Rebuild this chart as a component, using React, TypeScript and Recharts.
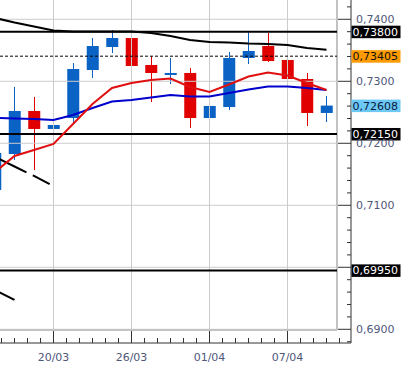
import React from "react";
import {
  ComposedChart,
  Bar,
  Line,
  XAxis,
  YAxis,
  ReferenceLine,
  ReferenceDot,
} from "recharts";

// candle index (one per session)
const candleIndex = [0, 1, 2, 3, 4, 5, 6, 7, 8, 9, 10, 11, 12, 13, 14, 15, 16, 17];
const opens = [0.71247, 0.71827, 0.72521, 0.72231, 0.72408, 0.73182, 0.73553, 0.73698, 0.73263, 0.73118, 0.73134, 0.72408, 0.72585, 0.73376, 0.73569, 0.73344, 0.73037, 0.72489];
const highs = [0.719, 0.72908, 0.72747, 0.7265, 0.73295, 0.73698, 0.73827, 0.73795, 0.73408, 0.73376, 0.73215, 0.72973, 0.73473, 0.73795, 0.73779, 0.73505, 0.73134, 0.72763];
const lows = [0.7118, 0.71731, 0.71569, 0.72182, 0.72327, 0.73053, 0.73456, 0.73215, 0.72666, 0.72956, 0.72247, 0.72327, 0.72537, 0.73279, 0.73311, 0.7286, 0.72279, 0.72344];
const closes = [0.71844, 0.72521, 0.72231, 0.72295, 0.73198, 0.73569, 0.73698, 0.73247, 0.73134, 0.73134, 0.72408, 0.72602, 0.73376, 0.73489, 0.73327, 0.73037, 0.72489, 0.72608];

const maFast = [0.71537, 0.71795, 0.71892, 0.71989, 0.72311, 0.72634, 0.72892, 0.72973, 0.73021, 0.73045, 0.72908, 0.72827, 0.72948, 0.73077, 0.73142, 0.73094, 0.72973, 0.7286];
const maSlow = [0.72408, 0.724, 0.72392, 0.72376, 0.72456, 0.72569, 0.72674, 0.72698, 0.72739, 0.72779, 0.72755, 0.72755, 0.72811, 0.72868, 0.72916, 0.72916, 0.72892, 0.7286];
const upperBand = [0.74021, 0.73948, 0.73884, 0.73819, 0.73803, 0.73803, 0.73803, 0.73803, 0.73779, 0.73731, 0.73666, 0.73634, 0.73626, 0.7361, 0.73602, 0.73585, 0.73537, 0.7351];
const lowerA = [0.71779, 0.71626, 0.71473, 0.71311];
const lowerB = [0.69634, 0.69473];

const dateTicks = [3, 7, 11, 15];
const dateLabels = ["20/03", "26/03", "01/04", "07/04"];

const solidLevels = [0.738, 0.7215, 0.6995];
const dashedLevel = 0.73405;
const lastPrice = 0.72608;
const yMajor = [0.69, 0.7, 0.71, 0.72, 0.73, 0.74];
// 0,7000 sits under the 0,69950 tag, so it is not printed
const yLabelled = [0.69, 0.71, 0.72, 0.73, 0.74];

// axis window (data units)
const X_MIN = 0.2564;
const X_MAX = 18.2564;
const X_FRAME = 17.538;
const Y_MIN = 0.68779;
const Y_MAX = 0.74311;
const Y_FRAME = 0.68989;

const BLUE = "#0a62c4";
const RED = "#e00000";
const TEXT = "#50577a";
const FONT = "DejaVu Sans, Verdana, sans-serif";

const data = candleIndex.map((i) => ({
  i,
  open: opens[i],
  close: closes[i],
  high: highs[i],
  low: lows[i],
  range: [lows[i], highs[i]],
  fast: maFast[i],
  slow: maSlow[i],
  upper: upperBand[i],
  lowA: lowerA[i],
  lowB: lowerB[i],
}));

const xTicks = Array.from({ length: 27 }, (_, k) => 3 + ((k - 4) * 2) / 3);
const yTicks = Array.from({ length: 28 }, (_, k) => +(0.688 + k * 0.002).toFixed(3));

const tags = [
  { v: solidLevels[0], bg: "#000", fg: "#fff" },
  { v: dashedLevel, bg: "#ff9a00", fg: "#111" },
  { v: lastPrice, bg: "#6cc8f4", fg: "#0a1a40" },
  { v: solidLevels[1], bg: "#000", fg: "#fff" },
  { v: solidLevels[2], bg: "#000", fg: "#fff" },
];

const fmt = (v: number, d: number) => v.toFixed(d).replace(".", ",");
const near = (list: number[], v: number) => list.some((m) => Math.abs(m - v) < 1e-6);

const Candle = (props: any) => {
  const { x, y, width, height, payload } = props;
  if (!payload) return null;
  const { open, close, high, low } = payload;
  const k = height / (high - low);
  const py = (v: number) => y + (high - v) * k;
  const color = close >= open ? BLUE : RED;
  const cx = Math.floor(x + width / 2) + 0.5;
  const top = py(Math.max(open, close));
  const bot = py(Math.min(open, close));
  return (
    <g>
      <line x1={cx} x2={cx} y1={y} y2={y + height} stroke={color} strokeWidth={1} />
      <rect x={x} y={top} width={width} height={Math.max(bot - top, 2)} fill={color} />
    </g>
  );
};

const XTick = (p: any) => {
  const { x, y, payload } = p;
  const idx = dateTicks.findIndex((t) => Math.abs(t - payload.value) < 1e-6);
  const major = idx >= 0;
  return (
    <g>
      <line x1={x} x2={x} y1={y} y2={y - (major ? 12 : 5)} stroke="#333" />
      {major && (
        <text x={x} y={y + 18} textAnchor="middle" fontSize={11} fontFamily={FONT} fill={TEXT}>
          {dateLabels[idx]}
        </text>
      )}
    </g>
  );
};

const YTick = (p: any) => {
  const { x, y, payload } = p;
  const major = near(yMajor, payload.value);
  return (
    <g>
      <line x1={x - (major ? 13 : 4)} x2={x} y1={y} y2={y} stroke="#333" />
      {near(yLabelled, payload.value) && (
        <text x={x + 5} y={y + 4} fontSize={11} fontFamily={FONT} fill={TEXT}>
          {fmt(payload.value, 4)}
        </text>
      )}
    </g>
  );
};

const PriceTag = ({ cx, cy, bg, fg, v }: any) => (
  <g>
    <rect x={cx + 0.5} y={cy - 6} width={49} height={12.5} fill={bg} />
    <text x={cx + 1.5} y={cy + 4} fontSize={11} fontFamily={FONT} fill={fg}>
      {fmt(v, 5)}
    </text>
  </g>
);

export default function App() {
  return (
    <div style={{ position: "absolute", left: 0, top: 0, width: 409, height: 369, background: "#fff" }}>
      <ComposedChart width={409} height={369} data={data} margin={{ top: 0, right: 0, bottom: 0, left: 0 }}>
        {yMajor.map((v) => (
          <ReferenceLine key={"h" + v} segment={[{ x: X_MIN, y: v }, { x: X_FRAME, y: v }]} stroke="#cccccc" />
        ))}
        {dateTicks.map((t) => (
          <ReferenceLine key={"v" + t} segment={[{ x: t, y: Y_FRAME }, { x: t, y: Y_MAX }]} stroke="#cccccc" />
        ))}
        <ReferenceLine segment={[{ x: X_FRAME, y: Y_FRAME }, { x: X_FRAME, y: Y_MAX }]} stroke="#c2c2c2" strokeWidth={2} />
        <ReferenceLine segment={[{ x: X_MIN, y: Y_FRAME }, { x: X_FRAME, y: Y_FRAME }]} stroke="#c2c2c2" strokeWidth={2} />

        <XAxis
          type="number"
          dataKey="i"
          domain={[X_MIN, X_MAX]}
          allowDataOverflow
          ticks={xTicks}
          interval={0}
          height={26}
          tickSize={0}
          tickMargin={0}
          tickLine={false}
          axisLine={{ stroke: "#333" }}
          tick={<XTick />}
        />
        <YAxis
          orientation="right"
          type="number"
          domain={[Y_MIN, Y_MAX]}
          allowDataOverflow
          ticks={yTicks}
          interval={0}
          width={58}
          tickSize={0}
          tickMargin={0}
          tickLine={false}
          axisLine={{ stroke: "#333" }}
          tick={<YTick />}
        />

        {solidLevels.map((v) => (
          <ReferenceLine key={"s" + v} segment={[{ x: X_MIN, y: v }, { x: X_FRAME, y: v }]} stroke="#000" strokeWidth={2} />
        ))}
        <ReferenceLine
          segment={[{ x: X_MIN, y: dashedLevel }, { x: X_FRAME, y: dashedLevel }]}
          stroke="#000"
          strokeDasharray="3 2"
        />

        <Line dataKey="upper" type="linear" stroke="#000" strokeWidth={2} dot={false} isAnimationActive={false} />
        <Line dataKey="lowA" type="linear" stroke="#000" strokeWidth={2} strokeDasharray="35 7 19 10" dot={false} isAnimationActive={false} />
        <Line dataKey="lowB" type="linear" stroke="#000" strokeWidth={2} dot={false} isAnimationActive={false} />
        <Bar dataKey="range" barSize={12} shape={Candle} isAnimationActive={false} />
        <Line dataKey="slow" type="linear" stroke="#0000cc" strokeWidth={2} dot={false} isAnimationActive={false} />
        <Line dataKey="fast" type="linear" stroke="#e01010" strokeWidth={2} dot={false} isAnimationActive={false} />

        {tags.map((t) => (
          <ReferenceDot
            key={"t" + t.v}
            x={X_MAX}
            y={t.v}
            r={0}
            ifOverflow="visible"
            shape={(p: any) => <PriceTag cx={p.cx} cy={p.cy} bg={t.bg} fg={t.fg} v={t.v} />}
          />
        ))}
      </ComposedChart>
    </div>
  );
}
